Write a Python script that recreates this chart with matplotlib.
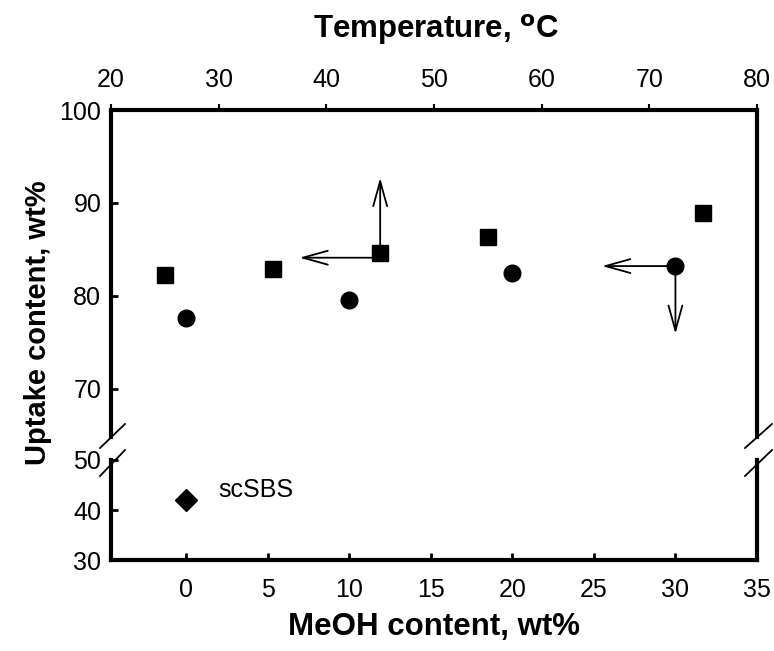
import numpy as np
import matplotlib
matplotlib.use('Agg')
import matplotlib.pyplot as plt
from matplotlib.lines import Line2D

plt.rcParams['font.family'] = ['Liberation Sans', 'DejaVu Sans']

# data
temperature = [25, 35, 45, 55, 75]              # deg C, top axis (squares)
uptake_temp = [82.2, 82.9, 84.6, 86.3, 88.9]
meoh = [0, 10, 20, 30]                           # wt%, bottom axis (circles)
uptake_meoh = [77.6, 79.5, 82.5, 83.2]
scsbs_x = [0]
scsbs_y = [42]

W, H = 774, 651
fig = plt.figure(figsize=(W / 100, H / 100), dpi=100)

def fx(px):
    return px / W

def fy(py):
    return 1 - py / H

left, right = 111, 757
ax_up = fig.add_axes([fx(left), fy(437), fx(right - left), fy(110) - fy(437)])
ax_lo = fig.add_axes([fx(left), fy(560), fx(right - left), fy(460) - fy(560)])

# top axis (temperature) shares the upper panel's y
ax_top = ax_up.twiny()
ax_top.set_xlim(20, 80)
ax_top.set_xticks(np.arange(20, 81, 10))
ax_top.tick_params(direction='out', length=4, width=1.5, labelsize=18, pad=9)
for s in ax_top.spines.values():
    s.set_visible(False)

xlim = (-4.6, 35)
for ax in (ax_up, ax_lo):
    ax.set_xlim(*xlim)
    for s in ax.spines.values():
        s.set_linewidth(3)
    ax.tick_params(direction='in', length=5, width=2, labelsize=18, pad=7,
                   right=False, top=False)

ax_up.set_ylim(64.8, 100)
ax_up.set_yticks([70, 80, 90, 100])
ax_up.spines['bottom'].set_visible(False)
ax_up.tick_params(axis='x', bottom=False, labelbottom=False, top=False, labeltop=False)

ax_lo.set_ylim(30, 50)
ax_lo.set_yticks([30, 40, 50])
ax_lo.spines['top'].set_visible(False)
ax_lo.set_xticks(np.arange(0, 36, 5))
ax_lo.tick_params(axis='x', pad=13)

# points
ax_top.plot(temperature, uptake_temp, 's', color='black', ms=11, zorder=5)
ax_up.plot(meoh, uptake_meoh, 'o', color='black', ms=12, zorder=5)
ax_lo.plot(scsbs_x, scsbs_y, 'D', color='black', ms=11, zorder=5)
ax_lo.text(2.0, 43.9, 'scSBS', fontsize=18, va='center', ha='left')

# direction arrows
aprops = dict(arrowstyle='->,head_length=0.9,head_width=0.25', lw=1.3,
              color='black', mutation_scale=20, shrinkA=0, shrinkB=0)
ax_top.annotate('', xy=(45, 92.7), xytext=(45, 84.6), arrowprops=aprops, zorder=3)
ax_top.annotate('', xy=(37.5, 84.1), xytext=(45, 84.1), arrowprops=aprops, zorder=3)
ax_up.annotate('', xy=(25.5, 83.2), xytext=(30, 83.2), arrowprops=aprops, zorder=3)
ax_up.annotate('', xy=(30, 75.9), xytext=(30, 83.2), arrowprops=aprops, zorder=3)

# axis break marks
for x0, x1 in [(100, 125), (745, 772)]:
    for y0, y1 in [(448, 424), (476, 450)]:
        fig.add_artist(Line2D([fx(x0), fx(x1)], [fy(y0), fy(y1)],
                              transform=fig.transFigure, color='black', lw=1.3))

fig.text(fx(38), fy(323), 'Uptake content, wt%', rotation=90, fontsize=21,
         fontweight='bold', ha='center', va='center')
fig.text(fx(434), fy(627), 'MeOH content, wt%', fontsize=22.5,
         fontweight='bold', ha='center', va='center')
fig.text(fx(436), fy(30), 'Temperature, $^{\\mathbf{o}}$C', fontsize=22.5,
         fontweight='bold', ha='center', va='center')

plt.savefig('out.png', dpi=100)
